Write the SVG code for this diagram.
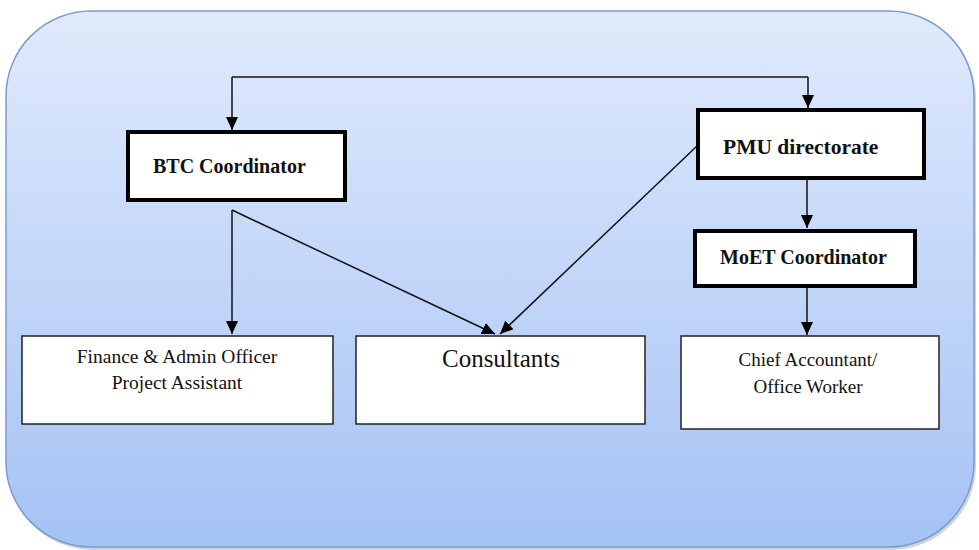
<svg xmlns="http://www.w3.org/2000/svg" width="979" height="550" viewBox="0 0 979 550">
<defs>
<linearGradient id="bg" x1="0" y1="0" x2="0" y2="1">
<stop offset="0" stop-color="#e0eafc"/>
<stop offset="1" stop-color="#a5c2f5"/>
</linearGradient>
<marker id="ah" viewBox="0 0 13 12" refX="13" refY="6" markerWidth="13" markerHeight="12" markerUnits="userSpaceOnUse" orient="auto">
<path d="M0,0 L13,6 L0,12 Z" fill="#000"/>
</marker>
<style>
.thick{fill:#fff;stroke:#000;stroke-width:4}
.thin{fill:#fff;stroke:#222;stroke-width:1.5}
.b{font-family:"Liberation Serif",serif;font-weight:bold;fill:#111}
.r{font-family:"Liberation Serif",serif;fill:#111;text-anchor:middle}
.c{fill:none;stroke:#111;stroke-width:1.5}
</style>
</defs>
<rect x="8" y="13" width="968" height="537" rx="85" ry="85" fill="#9aa9c4" opacity="0.5"/>
<rect x="6" y="11" width="968" height="536" rx="85" ry="85" fill="url(#bg)" stroke="#7d9bcc" stroke-width="1.5"/>
<g id="connectors">
<path class="c" d="M232,77 L808,77" stroke-width="2" stroke="#444"/>
<path class="c" d="M232,77 L232,130" marker-end="url(#ah)"/>
<path class="c" d="M808,77 L808,108" marker-end="url(#ah)"/>
<path class="c" d="M232,210 L232,334" marker-end="url(#ah)"/>
<path class="c" d="M232,210 L495,334" marker-end="url(#ah)"/>
<path class="c" d="M697,146 L500,334" marker-end="url(#ah)"/>
<path class="c" d="M807,179 L807,228" marker-end="url(#ah)"/>
<path class="c" d="M807,287 L807,335" marker-end="url(#ah)"/>
</g>
<g id="btc">
<rect class="thick" x="128" y="132" width="217" height="68"/>
<text class="b" x="153" y="173" font-size="20">BTC Coordinator</text>
</g>
<g id="pmu">
<rect class="thick" x="698" y="110" width="226" height="68"/>
<text class="b" x="723" y="154" font-size="21.5">PMU directorate</text>
</g>
<g id="moet">
<rect class="thick" x="695" y="231" width="220" height="55"/>
<text class="b" x="720" y="264" font-size="20">MoET Coordinator</text>
</g>
<g id="finance">
<rect class="thin" x="22" y="336" width="311" height="88"/>
<text class="r" x="177" y="363" font-size="19.5">Finance &amp; Admin Officer</text>
<text class="r" x="177" y="389" font-size="19.5">Project Assistant</text>
</g>
<g id="consultants">
<rect class="thin" x="356" y="336" width="289" height="88"/>
<text class="r" x="501" y="367" font-size="25">Consultants</text>
</g>
<g id="chief">
<rect class="thin" x="681" y="336" width="258" height="93"/>
<text class="r" x="808" y="366" font-size="19">Chief Accountant/</text>
<text class="r" x="808" y="393" font-size="19">Office Worker</text>
</g>
</svg>
